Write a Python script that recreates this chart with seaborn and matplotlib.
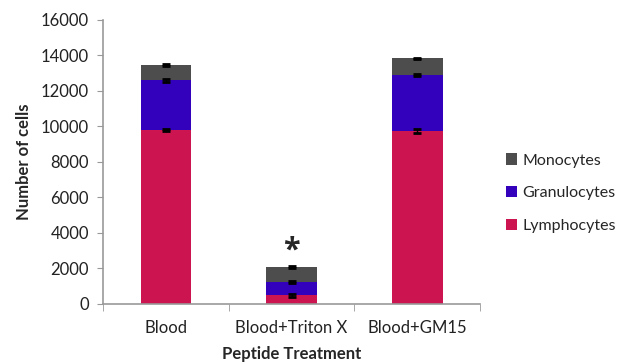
import matplotlib
matplotlib.use('Agg')
import matplotlib.pyplot as plt
import seaborn as sns
import pandas as pd
import numpy as np

treatments = ['Blood', 'Blood+Triton X', 'Blood+GM15']
lymphocytes = [9800, 470, 9750]
granulocytes = [2800, 760, 3150]
monocytes = [850, 840, 930]
lymph_err = [60, 60, 130]
gran_err = [80, 40, 60]
mono_err = [40, 50, 50]

colors = {'Lymphocytes': '#CC1450', 'Granulocytes': '#3300BB', 'Monocytes': '#4D4D4D'}

sns.set_style('white')
plt.rcParams['font.family'] = ['Lato', 'DejaVu Sans']

fig = plt.figure(figsize=(6.19, 3.63), dpi=100)
ax = fig.add_axes([0.166, 0.163, 0.61, 0.782])

lym = np.array(lymphocytes)
gra = lym + np.array(granulocytes)
mon = gra + np.array(monocytes)

# draw stacked bars back to front
for name, tops in [('Monocytes', mon), ('Granulocytes', gra), ('Lymphocytes', lym)]:
    df = pd.DataFrame({'treatment': treatments, 'value': tops})
    sns.barplot(x='treatment', y='value', data=df, color=colors[name], width=0.4,
                saturation=1, label=name, linewidth=0, ax=ax)

x = np.arange(len(treatments))
for tops, err in [(lym, lymph_err), (gra, gran_err), (mon, mono_err)]:
    ax.errorbar(x, tops, yerr=err, fmt='none', ecolor='black', elinewidth=1,
                capsize=3, capthick=2)

ax.text(1, mon[1] + 100, '*', ha='center', va='bottom', fontsize=22, fontweight='bold',
        family='Open Sans')

ax.set_ylim(0, 16000)
ax.set_xlim(-0.5, 2.5)
ax.set_yticks(range(0, 16001, 2000))
ax.tick_params(axis='y', labelsize=12, length=4, left=True, color='#999999', pad=6,
               labelcolor='#222222')
ax.tick_params(axis='x', labelsize=12, length=0, pad=12, labelcolor='#222222')
ax.set_xticks([-0.5, 0.5, 1.5, 2.5], minor=True)
ax.tick_params(axis='x', which='minor', bottom=True, length=5, color='#999999')
ax.set_xlabel('Peptide Treatment', fontsize=12, fontweight='bold', labelpad=7)
ax.set_ylabel('Number of cells', fontsize=12, fontweight='bold', labelpad=6)
for s in ['top', 'right']:
    ax.spines[s].set_visible(False)
for s in ['left', 'bottom']:
    ax.spines[s].set_color('#999999')
    ax.spines[s].set_linewidth(1.2)

handles, labels = ax.get_legend_handles_labels()
ax.legend(handles, labels, loc='center left', bbox_to_anchor=(1.03, 0.39), frameon=False,
          fontsize=11.5, handlelength=0.7, handleheight=0.7, handletextpad=0.3,
          labelspacing=1.15)

fig.savefig('out.png', dpi=100)
